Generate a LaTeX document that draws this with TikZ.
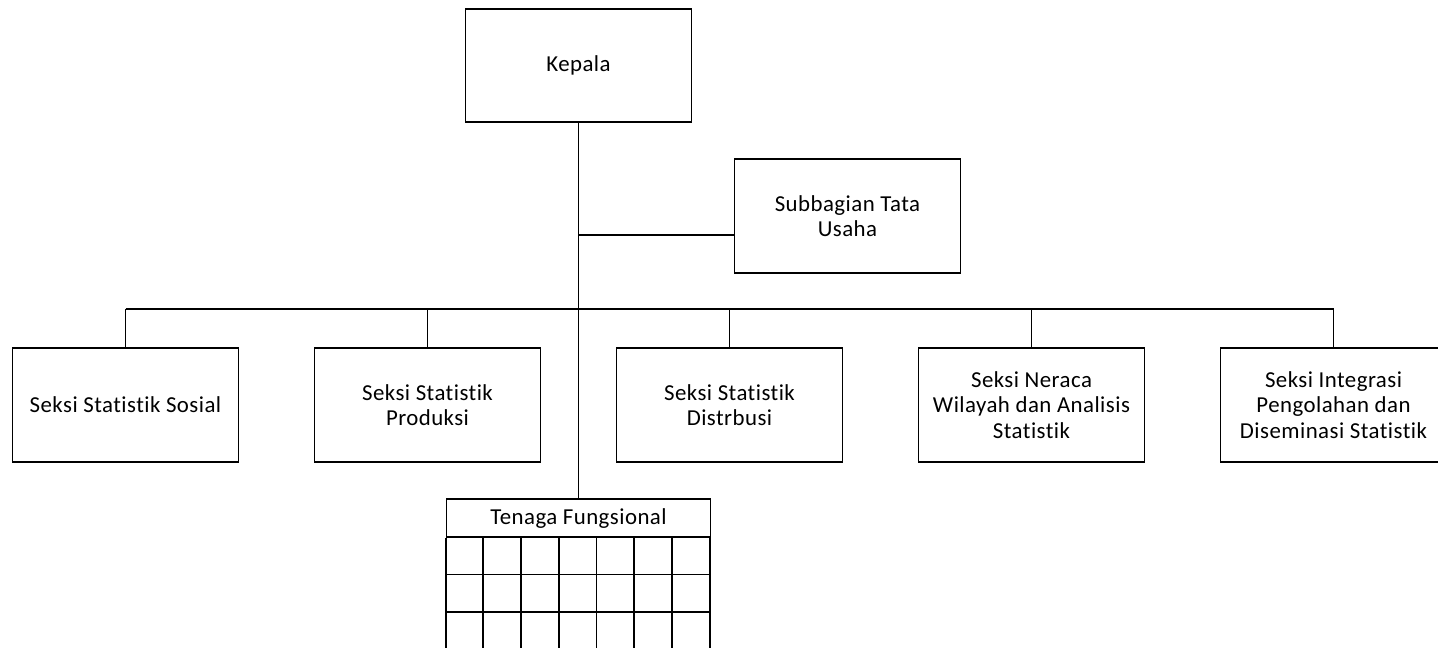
\documentclass[tikz,border=0pt]{standalone}
\usepackage{fontspec}
\setmainfont{Carlito}[Ligatures=NoCommon, LetterSpace=2]
\usetikzlibrary{positioning}

\tikzset{
  kotak/.style={draw, line width=1pt, minimum width=4.52cm, minimum height=2.27cm,
    inner sep=0pt, align=center, font=\fontsize{13}{14.5}\selectfont},
  garis/.style={line width=1pt}
}

\begin{document}
\begin{tikzpicture}[x=0.02cm, y=-0.02cm]
        % Batas gambar
        \useasboundingbox (0,0) rectangle (1438,648);

        % Kepala dan subbagian
        \node[kotak] (kepala) at (578.5,65.5) {Kepala};
        \node[kotak] (subbag) at (847.5,216) {Subbagian Tata\\Usaha};

        % Seksi-seksi
        \node[kotak] (seksi1) at (125.5,405) {Seksi Statistik Sosial};
        \node[kotak] (seksi2) at (427.5,405) {Seksi Statistik\\Produksi};
        \node[kotak] (seksi3) at (729.5,405) {Seksi Statistik\\Distrbusi};
        \node[kotak] (seksi4) at (1031.5,405) {Seksi Neraca\\Wilayah dan Analisis\\Statistik};
        \node[kotak] (seksi5) at (1333.5,405) {Seksi Integrasi\\Pengolahan dan\\Diseminasi Statistik};

        % Tenaga fungsional
        \node[kotak, minimum width=5.28cm, minimum height=0.754cm] (tenaga) at (578.5,518.2) {Tenaga Fungsional};
        \foreach \r in {1,2,3} {
          \draw[garis] (446.5,536.9+37.7*\r) -- (710.5,536.9+37.7*\r);
        }
        \foreach \c in {0,...,7} {
          \draw[garis] (tenaga.south west) ++(37.714*\c,0) -- ++(0,120);
        }

        % Garis penghubung
        \coordinate (bus) at (0,309);
        \coordinate (cabang) at (578.5,235);
        \draw[garis] (kepala.south) -- (tenaga.north);
        \draw[garis] (cabang) -- (cabang -| subbag.west);
        \draw[garis] (seksi1.north |- bus) -- (seksi5.north |- bus);
        \foreach \i in {1,...,5} {
          \draw[garis] (seksi\i.north) -- (seksi\i.north |- bus);
        }
    \end{tikzpicture}
\end{document}
